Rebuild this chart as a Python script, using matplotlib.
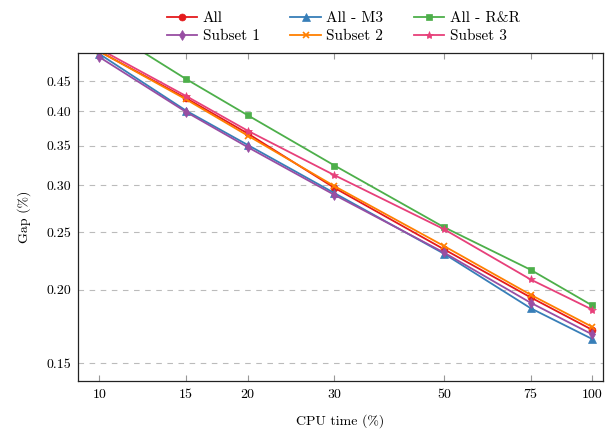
import matplotlib
matplotlib.use('Agg')
import matplotlib.pyplot as plt
from matplotlib.ticker import FixedLocator, FixedFormatter, NullLocator

plt.rcParams['font.family'] = 'cmr10'
plt.rcParams['axes.formatter.use_mathtext'] = True
plt.rcParams['font.size'] = 10

# CPU time (%) and gap (%) per configuration
cpu_time = [10, 15, 20, 30, 50, 75, 100]
gap_all = [0.505, 0.421, 0.367, 0.297, 0.234, 0.194, 0.171]
gap_all_m3 = [0.500, 0.401, 0.351, 0.291, 0.230, 0.186, 0.165]
gap_all_rr = [0.560, 0.4535, 0.394, 0.324, 0.255, 0.216, 0.188]
gap_subset1 = [0.494, 0.399, 0.348, 0.289, 0.231, 0.190, 0.168]
gap_subset2 = [0.505, 0.419, 0.364, 0.299, 0.237, 0.196, 0.173]
gap_subset3 = [0.510, 0.4245, 0.371, 0.312, 0.253, 0.208, 0.185]

x_ticks = [10, 15, 20, 30, 50, 75, 100]
y_ticks = [0.15, 0.20, 0.25, 0.30, 0.35, 0.40, 0.45]

series = [
    ('All', gap_all, '#e41a1c', 'o', 5),
    ('All - M3', gap_all_m3, '#377eb8', '^', 5.5),
    ('All - R&R', gap_all_rr, '#4daf4a', 's', 4.5),
    ('Subset 1', gap_subset1, '#984ea3', 'd', 5.5),
    ('Subset 2', gap_subset2, '#ff7f00', 'x', 5),
    ('Subset 3', gap_subset3, '#e7407a', '*', 6),
]

fig = plt.figure(figsize=(6.05, 4.32), dpi=100)
ax = fig.add_axes([0.129, 0.118, 0.868, 0.759])

lines = []
for name, vals, col, mk, ms in series:
    ln, = ax.plot(cpu_time, vals, color=col, marker=mk, markersize=ms, lw=1.3,
                  label=name, markeredgewidth=1.2 if mk == 'x' else 0.5)
    lines.append(ln)

ax.set_xscale('log')
ax.set_yscale('log')
ax.set_xlim(9.05, 105.3)
ax.set_ylim(0.1401, 0.5017)

ax.xaxis.set_major_locator(FixedLocator(x_ticks))
ax.xaxis.set_major_formatter(FixedFormatter([str(t) for t in x_ticks]))
ax.xaxis.set_minor_locator(NullLocator())
ax.yaxis.set_major_locator(FixedLocator(y_ticks))
ax.yaxis.set_major_formatter(FixedFormatter(['%.2f' % t for t in y_ticks]))
ax.yaxis.set_minor_locator(NullLocator())

ax.tick_params(axis='x', which='major', direction='in', top=True, length=4,
               color='#999999', pad=6)
ax.tick_params(axis='y', which='major', direction='in', length=0, pad=5)
ax.grid(axis='y', linestyle=(0, (5, 5)), color='#bbbbbb', lw=0.8)
ax.set_axisbelow(True)

for sp in ax.spines.values():
    sp.set_linewidth(0.9)
    sp.set_color('#222222')

ax.set_xlabel('CPU time (%)', labelpad=9)
ax.set_ylabel('Gap (%)', labelpad=11)

# row-wise legend order: matplotlib fills columns first
order = [0, 3, 1, 4, 2, 5]
ax.legend([lines[i] for i in order], [series[i][0] for i in order],
          loc='lower center', bbox_to_anchor=(0.505, 1.0), ncol=3, frameon=False,
          fontsize=11, handlelength=2.0, columnspacing=2.0, handletextpad=0.35,
          labelspacing=0.3, borderaxespad=0.25)

fig.savefig('out.png', dpi=100)
